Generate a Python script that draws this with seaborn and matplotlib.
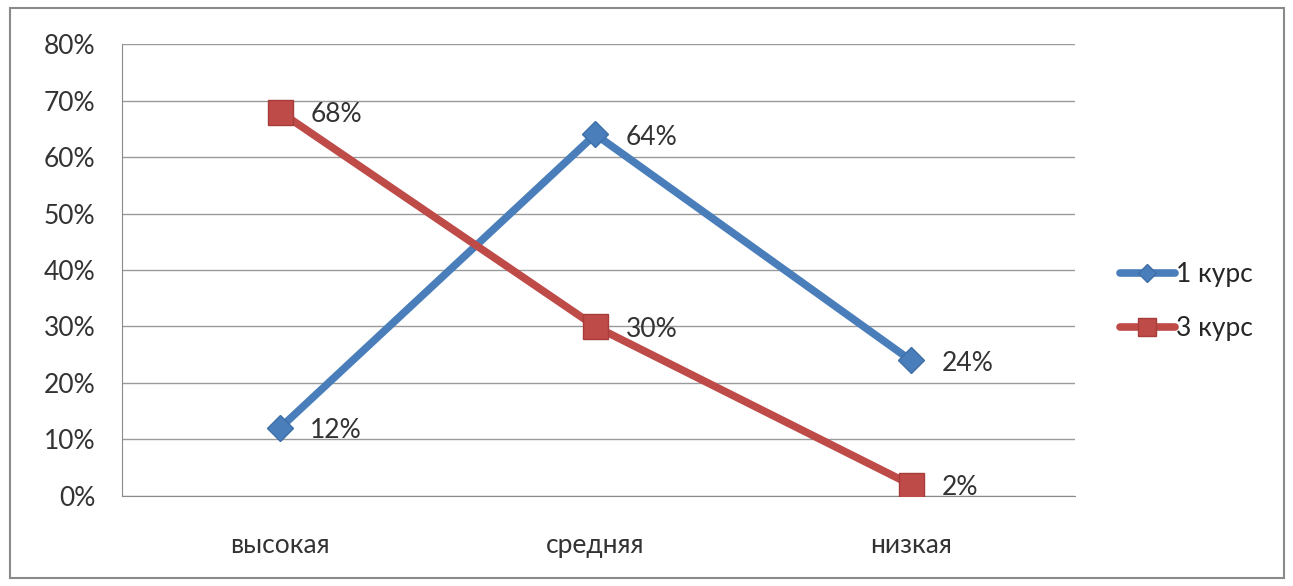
import matplotlib
matplotlib.use("Agg")
import matplotlib.pyplot as plt
from matplotlib.patches import Rectangle
import seaborn as sns
import pandas as pd

# Data
categories = ["высокая", "средняя", "низкая"]
kurs1 = [12, 64, 24]
kurs3 = [68, 30, 2]
series_names = ["1 курс", "3 курс"]

df = pd.DataFrame({
    "cat": categories * 2,
    "val": kurs1 + kurs3,
    "series": [series_names[0]] * 3 + [series_names[1]] * 3,
})
df["x"] = df["cat"].map({c: i for i, c in enumerate(categories)})

sns.set_style("white")
plt.rcParams["font.family"] = ["Lato", "DejaVu Sans"]

fig = plt.figure(figsize=(12.93, 5.86), dpi=100)
ax = fig.add_axes([0.0944, 0.1536, 0.8314 - 0.0944, 0.9249 - 0.1536])

colors = {"1 курс": "#4A7EBB", "3 курс": "#BE4B48"}
edges = {"1 курс": "#3f6fa8", "3 курс": "#a83c3a"}
markers = {"1 курс": "D", "3 курс": "s"}
sizes = {"1 курс": 13, "3 курс": 18}

for name in series_names:
    sub = df[df["series"] == name]
    sns.lineplot(data=sub, x="x", y="val", ax=ax, color=colors[name], linewidth=5.5,
                 marker=markers[name], markersize=sizes[name], markeredgecolor=edges[name],
                 markeredgewidth=1, label=name, zorder=3)
    for xv, yv in zip(sub["x"], sub["val"]):
        ax.annotate(f"{yv}%", (xv, yv), xytext=(22, -2), textcoords="offset points",
                    ha="left", va="center", fontsize=19, color="#333333")

ax.set_xlim(-0.5, 2.52)
ax.set_ylim(0, 80)
ax.set_yticks(range(0, 81, 10))
ax.set_yticklabels([f"{v}%" for v in range(0, 81, 10)], fontsize=19, color="#333333")
ax.set_xticks(range(len(categories)))
ax.set_xticklabels(categories, fontsize=19, color="#333333")
ax.tick_params(axis="x", length=0, pad=27)
ax.tick_params(axis="y", length=0, pad=19)
ax.yaxis.grid(True, color="#9a9a9a", linewidth=1)
ax.set_xlabel("")
ax.set_ylabel("")
for s in ["top", "right"]:
    ax.spines[s].set_visible(False)
ax.spines["left"].set_color("#8a8a8a")
ax.spines["bottom"].set_color("#8a8a8a")

leg = ax.legend(loc="center left", bbox_to_anchor=(1.022, 0.43), frameon=False, fontsize=19,
                handlelength=2.1, handletextpad=0.05, labelspacing=1.1, markerscale=0.7)

fig.patches.append(Rectangle((10 / 1293, 8 / 586), 1274 / 1293, 570 / 586,
                             transform=fig.transFigure, fill=False,
                             edgecolor="#8a8a8a", linewidth=1.5))

fig.savefig("out.png", dpi=100)
